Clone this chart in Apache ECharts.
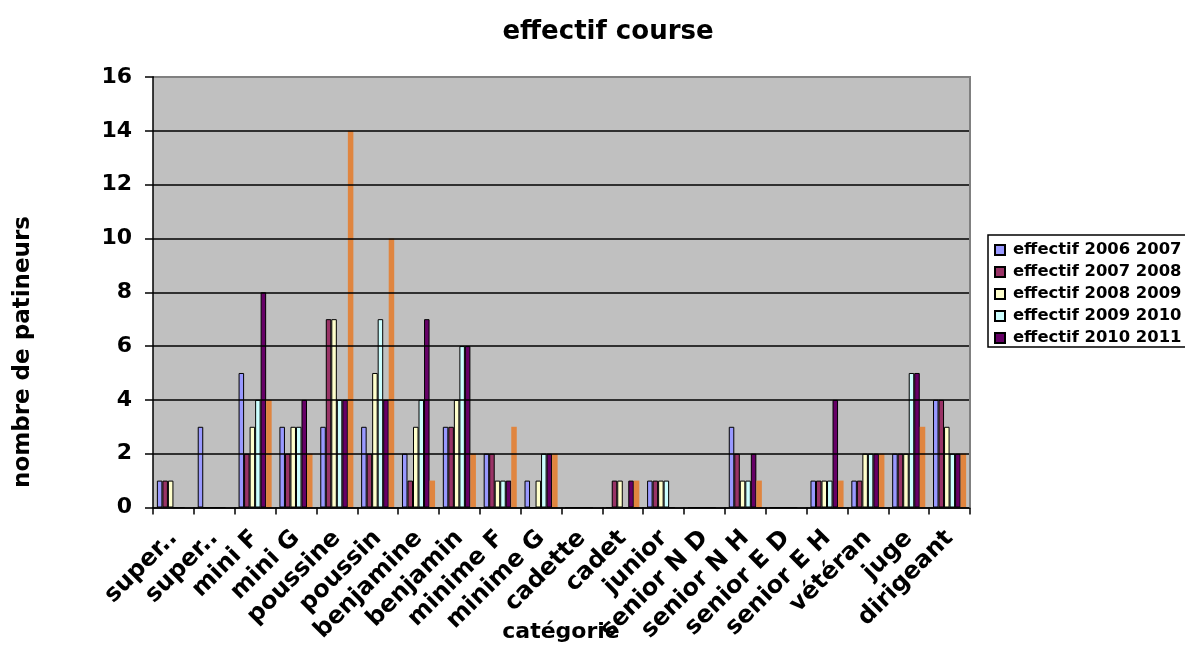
<!DOCTYPE html>
<html>
<head>
<meta charset="utf-8">
<script src="https://cdn.jsdelivr.net/npm/echarts@6/dist/echarts.min.js"></script>
<style>
html,body{margin:0;padding:0;background:#fff;}
#main{width:1185px;height:649px;}
</style>
</head>
<body>
<div id="main"></div>
<script>
const categories = ['super..','super..','mini F','mini G','poussine','poussin','benjamine','benjamin','minime F','minime G','cadette','cadet','junior','senior N D','senior N H','senior E D','senior E H','vétéran','juge','dirigeant'];
const seriesNames = ['effectif 2006 2007','effectif 2007 2008','effectif 2008 2009','effectif 2009 2010','effectif 2010 2011','effectif 2011 2012'];
const v2006 = [1,3,5,3,3,3,2,3,2,1,0,0,1,0,3,0,1,1,2,4];
const v2007 = [1,0,2,2,7,2,1,3,2,0,0,1,1,0,2,0,1,1,2,4];
const v2008 = [1,0,3,3,7,5,3,4,1,1,0,1,1,0,1,0,1,2,2,3];
const v2009 = [0,0,4,3,4,7,4,6,1,2,0,0,1,0,1,0,1,2,5,2];
const v2010 = [0,0,8,4,4,4,7,6,1,2,0,1,0,0,2,0,4,2,5,2];
const v2011 = [0,0,4,2,14,10,1,2,3,2,0,1,0,0,1,0,1,2,3,2];
const yTicks = [0,2,4,6,8,10,12,14,16];

const colors = ['#9999FF','#993366','#FFFFCC','#CCFFFF','#660066','#E0853F'];
const values = [v2006,v2007,v2008,v2009,v2010,v2011];
const FONT = 'DejaVu Sans';

const chart = echarts.init(document.getElementById('main'), null, {renderer:'canvas'});
const series = values.map((d,i)=>({
  name: seriesNames[i],
  type: 'bar',
  data: d,
  barGap: '0%',
  barCategoryGap: '19%',
  itemStyle: {
    color: colors[i],
    borderColor: i < 5 ? '#000' : 'transparent',
    borderWidth: i < 5 ? 1 : 0
  },
  emphasis: {disabled: true},
  animation: false
}));

chart.setOption({
  animation: false,
  backgroundColor: '#fff',
  title: {
    text: 'effectif course',
    left: 603,
    top: 14,
    textAlign: 'center',
    textStyle: {fontFamily: FONT, fontWeight: 'bold', fontSize: 26, color: '#000'}
  },
  legend: {
    orient: 'vertical',
    left: 988,
    top: 235,
    data: seriesNames.slice(0,5),
    backgroundColor: 'transparent',
    borderWidth: 0,
    padding: [7, 0, 3, 6],
    itemWidth: 10,
    itemHeight: 10,
    itemGap: 6,
    icon: 'rect',
    textStyle: {fontFamily: FONT, fontWeight: 'bold', fontSize: 16.4, lineHeight: 16, color: '#000', padding: [0,0,0,3]}
  },
  grid: {left: 153, top: 77, width: 817, height: 430.5, show: true, backgroundColor: '#C0C0C0', borderWidth: 0, containLabel: false},
  xAxis: {
    type: 'category',
    data: categories,
    axisLine: {show: true, lineStyle: {color: '#000', width: 1.5}},
    axisTick: {show: true, alignWithLabel: false, length: 7, lineStyle: {color: '#000', width: 1.5}},
    axisLabel: {rotate: 45, interval: 0, margin: 27, fontFamily: FONT, fontWeight: 'bold', fontSize: 24, color: '#000'},
    splitLine: {show: false},
    z: 6
  },
  yAxis: {
    type: 'value',
    min: 0,
    max: 16,
    interval: 2,
    axisLine: {show: true, lineStyle: {color: '#000', width: 1.5}},
    axisTick: {show: true, length: 8, lineStyle: {color: '#000', width: 1.5}},
    axisLabel: {margin: 21, fontFamily: FONT, fontWeight: 'bold', fontSize: 22, color: '#000',
      formatter: v => yTicks.includes(v) ? String(v) : ''},
    splitLine: {show: true, lineStyle: {color: '#000', width: 1.5}},
    z: 6
  },
  graphic: [
    {type: 'rect', z: 1, shape: {x: 988, y: 235, width: 240, height: 112},
     style: {fill: '#fff', stroke: '#000', lineWidth: 1.5}},
    {type: 'polyline', z: 20, shape: {points: [[154, 77], [970, 77], [970, 507.5]]},
     style: {stroke: '#808080', lineWidth: 2, fill: null}},
    {type: 'text', x: 23, y: 352, rotation: Math.PI/2, z: 10,
     style: {text: 'nombre de patineurs', fontFamily: FONT, fontWeight: 'bold', fontSize: 23, fill: '#000', align: 'center', verticalAlign: 'middle'}},
    {type: 'text', x: 561, y: 632, z: 10,
     style: {text: 'catégorie', fontFamily: FONT, fontWeight: 'bold', fontSize: 22, fill: '#000', align: 'center', verticalAlign: 'middle'}}
  ],
  series: series
});
</script>
</body>
</html>
